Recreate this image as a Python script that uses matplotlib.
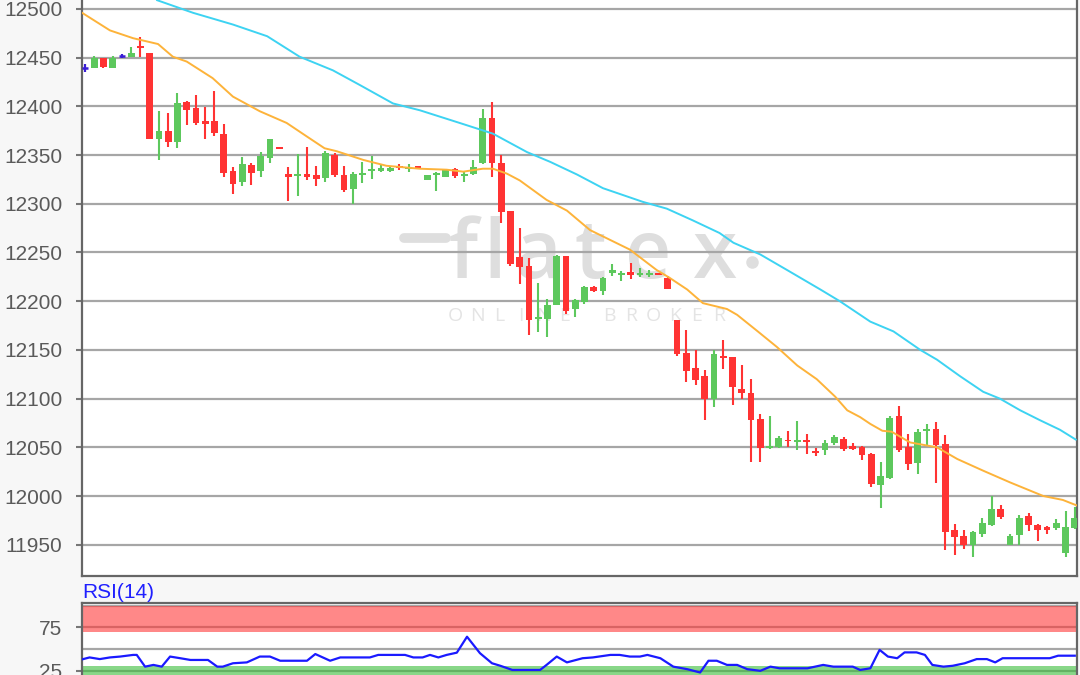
import matplotlib
matplotlib.use('Agg')
import matplotlib.pyplot as plt

plt.rcParams['font.family'] = ['Liberation Sans', 'DejaVu Sans']

# ---------------- data ----------------
opens = [12439, 12439, 12450, 12439, 12452, 12451, 12462, 12455, 12367, 12375,
         12363, 12404, 12398, 12385, 12385, 12372, 12334, 12322, 12340, 12334,
         12347, 12358, 12331, 12329, 12331, 12330, 12326, 12350, 12330, 12315,
         12330, 12334, 12334, 12334, 12339, 12336, 12338, 12324, 12330, 12328,
         12336, 12329, 12331, 12342, 12388, 12342, 12293, 12245, 12236, 12182,
         12182, 12196, 12246, 12192, 12199, 12215, 12210, 12229, 12227, 12230,
         12227, 12227, 12229, 12224, 12181, 12147, 12131, 12123, 12100, 12144,
         12143, 12110, 12106, 12079, 12049, 12050, 12058, 12055, 12057, 12046,
         12047, 12054, 12059, 12051, 12050, 12043, 12011, 12019, 12082, 12050,
         12034, 12067, 12069, 12053, 11965, 11959, 11950, 11961, 11970, 11987,
         11950, 11960, 11979, 11970, 11968, 11967, 11942, 11967]
highs = [12443, 12452, 12450, 12452, 12454, 12461, 12471, 12455, 12395, 12393,
         12414, 12406, 12412, 12399, 12416, 12382, 12338, 12348, 12342, 12353,
         12367, 12358, 12338, 12351, 12358, 12339, 12354, 12352, 12339, 12333,
         12343, 12349, 12340, 12338, 12341, 12341, 12339, 12330, 12333, 12336,
         12337, 12334, 12345, 12397, 12405, 12350, 12293, 12275, 12244, 12219,
         12202, 12247, 12246, 12202, 12216, 12216, 12225, 12238, 12231, 12239,
         12234, 12232, 12229, 12226, 12181, 12170, 12150, 12129, 12150, 12160,
         12143, 12135, 12120, 12084, 12082, 12062, 12067, 12077, 12064, 12049,
         12058, 12063, 12061, 12054, 12051, 12044, 12035, 12082, 12092, 12064,
         12069, 12074, 12076, 12063, 11971, 11965, 11964, 11977, 12000, 11991,
         11961, 11981, 11983, 11971, 11969, 11976, 11985, 11989]
lows = [12435, 12439, 12439, 12439, 12450, 12451, 12451, 12367, 12345, 12358,
        12357, 12381, 12381, 12367, 12370, 12328, 12310, 12318, 12319, 12328,
        12342, 12356, 12303, 12308, 12324, 12318, 12322, 12328, 12312, 12300,
        12321, 12325, 12333, 12333, 12335, 12333, 12336, 12324, 12313, 12327,
        12326, 12322, 12330, 12341, 12327, 12280, 12236, 12218, 12165, 12168,
        12163, 12196, 12187, 12184, 12197, 12209, 12206, 12226, 12221, 12223,
        12225, 12225, 12227, 12213, 12144, 12117, 12114, 12078, 12091, 12130,
        12093, 12100, 12035, 12035, 12048, 12049, 12050, 12047, 12043, 12041,
        12042, 12052, 12046, 12047, 12037, 12009, 11988, 12017, 12045, 12027,
        12023, 12052, 12013, 11945, 11939, 11946, 11937, 11958, 11969, 11976,
        11950, 11950, 11964, 11954, 11961, 11965, 11937, 11966]
closes = [12439, 12450, 12440, 12450, 12452, 12455, 12460, 12367, 12375, 12363,
          12403, 12396, 12383, 12382, 12373, 12332, 12320, 12341, 12332, 12349,
          12366, 12356, 12328, 12331, 12328, 12325, 12352, 12330, 12314, 12331,
          12332, 12336, 12337, 12337, 12337, 12338, 12337, 12330, 12332, 12335,
          12329, 12331, 12338, 12388, 12342, 12292, 12238, 12235, 12181, 12184,
          12196, 12246, 12190, 12201, 12215, 12210, 12224, 12232, 12229, 12227,
          12229, 12229, 12227, 12213, 12146, 12128, 12119, 12100, 12146, 12142,
          12112, 12106, 12078, 12049, 12051, 12060, 12056, 12057, 12055, 12044,
          12054, 12061, 12048, 12048, 12042, 12012, 12021, 12080, 12047, 12033,
          12066, 12069, 12052, 11963, 11958, 11950, 11963, 11972, 11987, 11978,
          11959, 11977, 11970, 11965, 11965, 11972, 11968, 11977]
unchanged_bars = [0, 4]   # bars drawn as purple crosses

ma_fast_pos = [-0.3, 2.7, 5.2, 7.9, 9.5, 11.0, 13.8, 16.0, 18.9, 21.8, 24.0, 25.9,
               27.2, 30.1, 32.6, 36.2, 39.1, 40.9, 43.0, 44.1, 45.6, 47.0, 49.9,
               52.1, 54.6, 58.9, 61.8, 63.2, 65.1, 66.8, 69.4, 70.5, 72.6, 74.8,
               77.0, 79.1, 81.1, 82.4, 83.8, 84.9, 86.2, 87.2, 89.2, 92.1, 94.3,
               97.1, 100.0, 103.6, 105.7, 107.3]
ma_fast = [12496, 12478, 12470, 12464, 12451, 12446, 12429, 12410, 12395, 12383,
           12369, 12357, 12354, 12345, 12339, 12336, 12335, 12333, 12336, 12336,
           12331, 12324, 12304, 12293, 12273, 12253, 12232, 12224, 12212, 12198,
           12192, 12186, 12170, 12153, 12134, 12120, 12102, 12088, 12081, 12074,
           12067, 12066, 12055, 12050, 12038, 12026, 12014, 12000, 11996, 11990]

ma_slow_pos = [7.8, 11.7, 16.0, 19.7, 23.2, 26.8, 29.7, 33.3, 36.2, 40.5, 44.1,
               47.8, 50.3, 53.2, 56.0, 60.3, 62.9, 65.7, 68.6, 70.1, 73.0, 75.9,
               79.5, 81.6, 84.9, 87.4, 90.3, 92.1, 94.6, 97.1, 98.9, 101.1, 103.2,
               105.4, 107.1]
ma_slow = [12509, 12496, 12484, 12472, 12451, 12437, 12422, 12403, 12396, 12383,
           12372, 12353, 12343, 12330, 12316, 12302, 12295, 12283, 12270, 12260,
           12248, 12232, 12212, 12200, 12179, 12169, 12150, 12140, 12123, 12107,
           12100, 12088, 12078, 12068, 12058]

rsi_pos = [-0.3, 0.5, 1.6, 2.7, 3.8, 5.2, 5.6, 6.5, 7.4, 8.3, 9.2, 10.3, 11.4,
           13.3, 14.3, 14.9, 16.0, 17.5, 18.9, 20.0, 21.1, 24.0, 24.9, 26.5,
           27.6, 30.8, 31.7, 34.6, 35.5, 36.5, 37.3, 38.2, 39.1, 40.2, 41.3,
           42.7, 44.0, 44.9, 46.2, 47.4, 49.2, 49.9, 51.0, 52.1, 53.8, 54.9,
           56.8, 57.8, 58.9, 60.0, 60.8, 62.2, 63.6, 65.1, 66.5, 67.4, 68.3,
           69.4, 70.5, 71.6, 73.0, 74.1, 75.1, 78.1, 79.8, 80.9, 83.0, 83.8,
           84.9, 85.9, 86.8, 87.8, 88.6, 89.9, 90.8, 91.6, 92.8, 93.8, 95.1,
           96.4, 97.5, 98.4, 99.2, 101.4, 104.3, 105.2, 107.0]
rsi = [38.1, 40.3, 38.4, 40.3, 41.3, 43.2, 43.2, 29.7, 31.7, 29.7, 41.3, 39.4,
       37.4, 37.4, 29.7, 29.7, 33.6, 34.6, 41.3, 41.3, 36.5, 36.5, 44.2, 36.5,
       40.3, 40.3, 43.2, 43.2, 40.3, 40.3, 43.2, 40.3, 43.2, 45.8, 64.1, 45.2,
       33.6, 30.7, 25.9, 25.9, 25.9, 31.7, 41.3, 34.6, 39.4, 40.3, 43.2, 43.2,
       41.3, 41.3, 43.2, 39.4, 29.7, 26.8, 23.0, 36.5, 36.5, 31.7, 31.7, 26.8,
       24.9, 29.7, 27.8, 27.8, 31.7, 29.7, 29.7, 25.9, 27.8, 49.0, 41.3, 39.4,
       46.1, 46.1, 43.2, 31.7, 29.7, 30.7, 33.6, 38.4, 38.4, 34.6, 39.4, 39.4,
       39.4, 42.3, 42.3]

price_ticks = [11950, 12000, 12050, 12100, 12150, 12200, 12250, 12300, 12350,
               12400, 12450, 12500]
rsi_ticks = [25, 75]
rsi_lines = [25, 50, 75, 100]
rsi_overbought = (70, 100)
rsi_oversold = (0, 30)

# ---------------- figure ----------------
W, H = 1080, 675
fig = plt.figure(figsize=(10.8, 6.75), dpi=100, facecolor='#f7f7f7')


def box(x0, y0, x1, y1):
    return [x0 / W, 1 - y1 / H, (x1 - x0) / W, (y1 - y0) / H]


ax = fig.add_axes(box(82, 0, 1077, 576))
ax2 = fig.add_axes(box(82, 603, 1077, 675))

GREEN = '#5dc85d'
RED = '#ff3333'
PURPLE = '#3a1ed6'
SPINE = '#666666'
GRID = '#a6a6a6'

xmin, xmax = -0.32, 107.24

# ----- main price panel -----
ax.set_facecolor('white')
ax.set_axisbelow(True)
ax.set_xlim(xmin, xmax)
ax.set_ylim(11917.9, 12509.2)
ax.set_yticks(price_ticks)
ax.set_yticklabels([str(t) for t in price_ticks])
ax.yaxis.grid(True, color=GRID, lw=1.6)
ax.set_xticks([])
ax.tick_params(axis='y', length=4, width=1.5, color='#777777', pad=10,
               labelsize=15, labelcolor='#5a5a5a')
for s in ['left', 'right', 'bottom']:
    ax.spines[s].set_color(SPINE)
    ax.spines[s].set_linewidth(1.6)
ax.spines['top'].set_visible(False)

# watermark
def px(x, y):
    return ((x - 82) / 995, (576 - y) / 576)

wm = '#dedede'
ax.plot([px(404, 0)[0], px(446, 0)[0]], [px(0, 238)[1]] * 2, transform=ax.transAxes,
        color=wm, lw=7, solid_capstyle='round', zorder=0.1)
for ch, xc in zip('flatex', [463, 495, 538, 590, 648, 714]):
    ax.text(*px(xc, 278), ch, transform=ax.transAxes, fontsize=58,
            family='Open Sans', fontweight='semibold', color=wm,
            ha='center', va='baseline', zorder=0.1)
ax.plot([px(752, 0)[0]], [px(0, 262)[1]], 'o', transform=ax.transAxes,
        color=wm, ms=8, zorder=0.1)
for i, ch in enumerate('ONLINE BROKER'):
    ax.text(*px(455 + 22 * i, 316), ch, transform=ax.transAxes, fontsize=14,
            family='Open Sans', color='#e4e4e4', ha='center', va='center', zorder=0.1)

# candles
bw = 0.72
for i, (o, h, l, c) in enumerate(zip(opens, highs, lows, closes)):
    if i in unchanged_bars:
        ax.vlines(i, l, h, color=PURPLE, lw=1.6, zorder=3)
        ax.hlines(o, i - bw / 2, i + bw / 2, color=PURPLE, lw=1.8, zorder=3)
        continue
    col = GREEN if c >= o else RED
    ax.vlines(i, l, h, color=col, lw=1.5, zorder=3)
    lo, hi = min(o, c), max(o, c)
    if hi - lo < 2:
        mid = (hi + lo) / 2
        lo, hi = mid - 1, mid + 1
    ax.bar(i, hi - lo, bottom=lo, width=bw, color=col, linewidth=0, zorder=3)

ax.plot(ma_fast_pos, ma_fast, color='#fdb33a', lw=1.4, zorder=4)
ax.plot(ma_slow_pos, ma_slow, color='#3dd3f2', lw=1.4, zorder=4)

# ----- RSI panel -----
ax2.set_facecolor('white')
ax2.set_xlim(xmin, xmax)
ax2.set_ylim(20.1, 102.9)
for v in rsi_lines:
    ax2.axhline(v, color=GRID, lw=1.6, zorder=1)
ax2.axhspan(*rsi_overbought, color='#ff3333', alpha=0.58, lw=0, zorder=2)
ax2.axhspan(*rsi_oversold, color='#33bb33', alpha=0.58, lw=0, zorder=2)
ax2.plot(rsi_pos, rsi, color='#1a1aff', lw=1.6, zorder=4)
ax2.set_yticks(rsi_ticks)
ax2.set_yticklabels([str(t) for t in rsi_ticks])
ax2.set_xticks([])
ax2.tick_params(axis='y', length=4, width=1.5, color='#777777', pad=10,
                labelsize=15, labelcolor='#5a5a5a')
for s in ['left', 'right', 'top']:
    ax2.spines[s].set_color(SPINE)
    ax2.spines[s].set_linewidth(1.6)
ax2.spines['bottom'].set_visible(False)

fig.text(82 / W, 1 - 592 / H, 'RSI(14)', color='#1f1fff', fontsize=15,
         ha='left', va='center')

fig.savefig('out.png', dpi=100, facecolor=fig.get_facecolor())
